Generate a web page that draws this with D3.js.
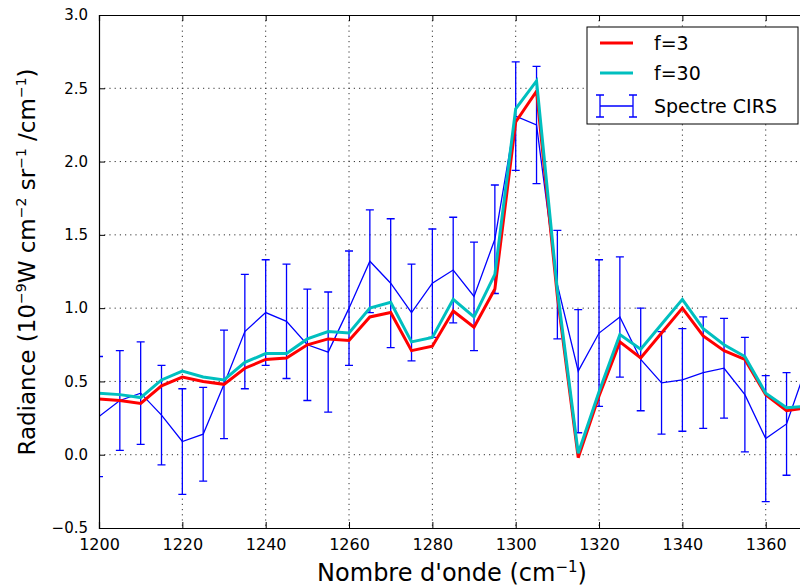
<!DOCTYPE html>
<html>
<head>
<meta charset="utf-8">
<script src="https://d3js.org/d3.v7.min.js"></script>
<style>
    body { margin: 0; background: #fff; }
    svg { display: block; font-family: "DejaVu Sans", sans-serif; }
    .grid line { stroke: #333; stroke-width: 1px; stroke-dasharray: 1.2,4; }
</style>
</head>
<body>
<svg id="chart" width="800" height="588"></svg>
<script>

    // wavenumbers (cm-1)
    var wavenumbers = [1200, 1205, 1210, 1215, 1220, 1225, 1230, 1235, 1240, 1245,
        1250, 1255, 1260, 1265, 1270, 1275, 1280, 1285, 1290, 1295,
        1300, 1305, 1310, 1315, 1320, 1325, 1330, 1335, 1340, 1345,
        1350, 1355, 1360, 1365, 1370];

    var cirs = [0.26, 0.37, 0.42, 0.27, 0.09, 0.14, 0.48, 0.84, 0.97, 0.91,
        0.75, 0.70, 1.00, 1.32, 1.17, 0.97, 1.17, 1.26, 1.08, 1.47,
        2.31, 2.25, 1.16, 0.57, 0.83, 0.94, 0.65, 0.49, 0.51, 0.56,
        0.59, 0.41, 0.11, 0.21, 0.62];

    var cirsErr = [0.41, 0.34, 0.35, 0.34, 0.36, 0.32, 0.37, 0.39, 0.36, 0.39,
        0.38, 0.41, 0.39, 0.35, 0.44, 0.33, 0.37, 0.36, 0.37, 0.37,
        0.37, 0.40, 0.37, 0.42, 0.50, 0.41, 0.35, 0.35, 0.35, 0.38,
        0.34, 0.39, 0.43, 0.35, 0.37];

    var f3 = [0.38, 0.37, 0.35, 0.47, 0.53, 0.50, 0.48, 0.59, 0.65, 0.66,
        0.75, 0.79, 0.78, 0.94, 0.97, 0.71, 0.74, 0.98, 0.87, 1.13,
        2.27, 2.48, 1.08, -0.02, 0.40, 0.77, 0.66, 0.83, 1.00, 0.81,
        0.71, 0.65, 0.41, 0.30, 0.32];

    var f30 = [0.42, 0.41, 0.39, 0.51, 0.57, 0.53, 0.51, 0.63, 0.69, 0.69,
        0.79, 0.84, 0.83, 1.00, 1.04, 0.77, 0.80, 1.06, 0.94, 1.23,
        2.36, 2.55, 1.12, 0.01, 0.43, 0.82, 0.72, 0.89, 1.06, 0.86,
        0.75, 0.67, 0.42, 0.32, 0.33];

    var xTicks = [1200, 1220, 1240, 1260, 1280, 1300, 1320, 1340, 1360, 1380];
    var yTicks = [-0.5, 0.0, 0.5, 1.0, 1.5, 2.0, 2.5, 3.0];

    var svg = d3.select('#chart');
    var mLeft = 99, mTop = 15, mBottom = 528;

    var x = d3.scaleLinear().domain([1200, 1380]).range([mLeft, mLeft + 180 * 4.167]);
    var y = d3.scaleLinear().domain([-0.5, 3.0]).range([mBottom, mTop]);
    var mRight = x(1380);

    svg.append('clipPath').attr('id', 'plot-clip')
      .append('rect')
        .attr('x', mLeft).attr('y', mTop)
        .attr('width', mRight - mLeft).attr('height', mBottom - mTop);

    // grid
    var grid = svg.append('g').attr('class', 'grid');
    grid.selectAll('.gx').data(xTicks.slice(1)).enter().append('line')
        .attr('class', 'gx')
        .attr('x1', function(d) { return x(d); }).attr('x2', function(d) { return x(d); })
        .attr('y1', mTop).attr('y2', mBottom);
    grid.selectAll('.gy').data(yTicks.slice(1, -1)).enter().append('line')
        .attr('class', 'gy')
        .attr('x1', mLeft).attr('x2', mRight)
        .attr('y1', function(d) { return y(d); }).attr('y2', function(d) { return y(d); });

    var plot = svg.append('g').attr('clip-path', 'url(#plot-clip)');
    var idx = d3.range(wavenumbers.length);

    // CIRS spectrum with error bars
    var eb = plot.append('g').attr('stroke', '#0000ff').attr('stroke-width', 1.3).attr('fill', 'none');
    eb.selectAll('.bar').data(idx).enter().append('path')
        .attr('class', 'bar')
        .attr('d', function(i) {
            var cx = x(wavenumbers[i]);
            var y0 = y(cirs[i] - cirsErr[i]), y1 = y(cirs[i] + cirsErr[i]);
            return 'M' + cx + ',' + y0 + 'V' + y1 +
                'M' + (cx - 4) + ',' + y0 + 'H' + (cx + 4) +
                'M' + (cx - 4) + ',' + y1 + 'H' + (cx + 4);
        });

    var line = function(vals) {
        return d3.line()
            .x(function(i) { return x(wavenumbers[i]); })
            .y(function(i) { return y(vals[i]); })(idx);
    };

    plot.append('path').attr('d', line(cirs))
        .attr('fill', 'none').attr('stroke', '#0000ff').attr('stroke-width', 1.3);
    plot.append('path').attr('d', line(f3))
        .attr('fill', 'none').attr('stroke', '#ff0000').attr('stroke-width', 3);
    plot.append('path').attr('d', line(f30))
        .attr('fill', 'none').attr('stroke', '#00bfbf').attr('stroke-width', 3);

    // axes (inward ticks, matplotlib style)
    var xAxis = svg.append('g').attr('transform', 'translate(0,' + mBottom + ')')
        .call(d3.axisBottom(x).tickValues(xTicks).tickSize(-6).tickPadding(11)
            .tickFormat(function(d) { return d < 1380 ? d3.format('d')(d) : ''; }));
    var xTop = svg.append('g').attr('transform', 'translate(0,' + mTop + ')')
        .call(d3.axisTop(x).tickValues(xTicks).tickSize(-6).tickFormat(''));
    var yAxis = svg.append('g').attr('transform', 'translate(' + mLeft + ',0)')
        .call(d3.axisLeft(y).tickValues(yTicks).tickSize(-6).tickPadding(11)
            .tickFormat(function(d) { return d3.format('.1f')(d).replace('-', '\u2212'); }));

    [xAxis, xTop, yAxis].forEach(function(a) {
        a.select('.domain').attr('stroke', '#000').attr('stroke-width', 1.2);
        a.selectAll('.tick line').attr('stroke', '#000').attr('stroke-width', 1);
        a.selectAll('text').attr('fill', '#000').attr('font-family', 'DejaVu Sans');
    });
    xAxis.selectAll('text').attr('font-size', 16);
    yAxis.selectAll('text').attr('font-size', 15);

    // axis titles
    svg.append('text')
        .attr('x', 452).attr('y', 581)
        .attr('text-anchor', 'middle').attr('font-size', 24)
        .html('Nombre d\'onde (cm<tspan dy="-9" font-size="15">\u22121</tspan><tspan dy="9">)</tspan>');

    svg.append('text')
        .attr('transform', 'translate(35,262) rotate(-90)')
        .attr('text-anchor', 'middle').attr('font-size', 23)
        .html('Radiance (10<tspan dy="-9" font-size="14">\u22129</tspan><tspan dy="9">W cm</tspan>' +
            '<tspan dy="-9" font-size="14">\u22122</tspan><tspan dy="9"> sr</tspan>' +
            '<tspan dy="-9" font-size="14">\u22121</tspan><tspan dy="9"> /cm</tspan>' +
            '<tspan dy="-9" font-size="14">\u22121</tspan><tspan dy="9">)</tspan>');

    // legend
    var lg = svg.append('g');
    lg.append('rect').attr('x', 587).attr('y', 27).attr('width', 211).attr('height', 97)
        .attr('fill', '#fff').attr('stroke', '#000').attr('stroke-width', 1);
    var items = [
        { label: 'f=3', color: '#ff0000', cy: 43 },
        { label: 'f=30', color: '#00bfbf', cy: 73 },
        { label: 'Spectre CIRS', color: '#0000ff', cy: 106 }
    ];
    items.forEach(function(it, k) {
        if (k < 2) {
            lg.append('line').attr('x1', 600).attr('x2', 633).attr('y1', it.cy).attr('y2', it.cy)
                .attr('stroke', it.color).attr('stroke-width', 3);
        } else {
            lg.append('path')
                .attr('d', 'M600,' + it.cy + 'H633M600,95V117M596,95H604M596,117H604' +
                    'M633,95V117M629,95H637M629,117H637')
                .attr('fill', 'none').attr('stroke', it.color).attr('stroke-width', 1.3);
        }
        lg.append('text').attr('x', 654).attr('y', it.cy + 7)
            .attr('font-size', 19).text(it.label);
    });

</script>
</body>
</html>
